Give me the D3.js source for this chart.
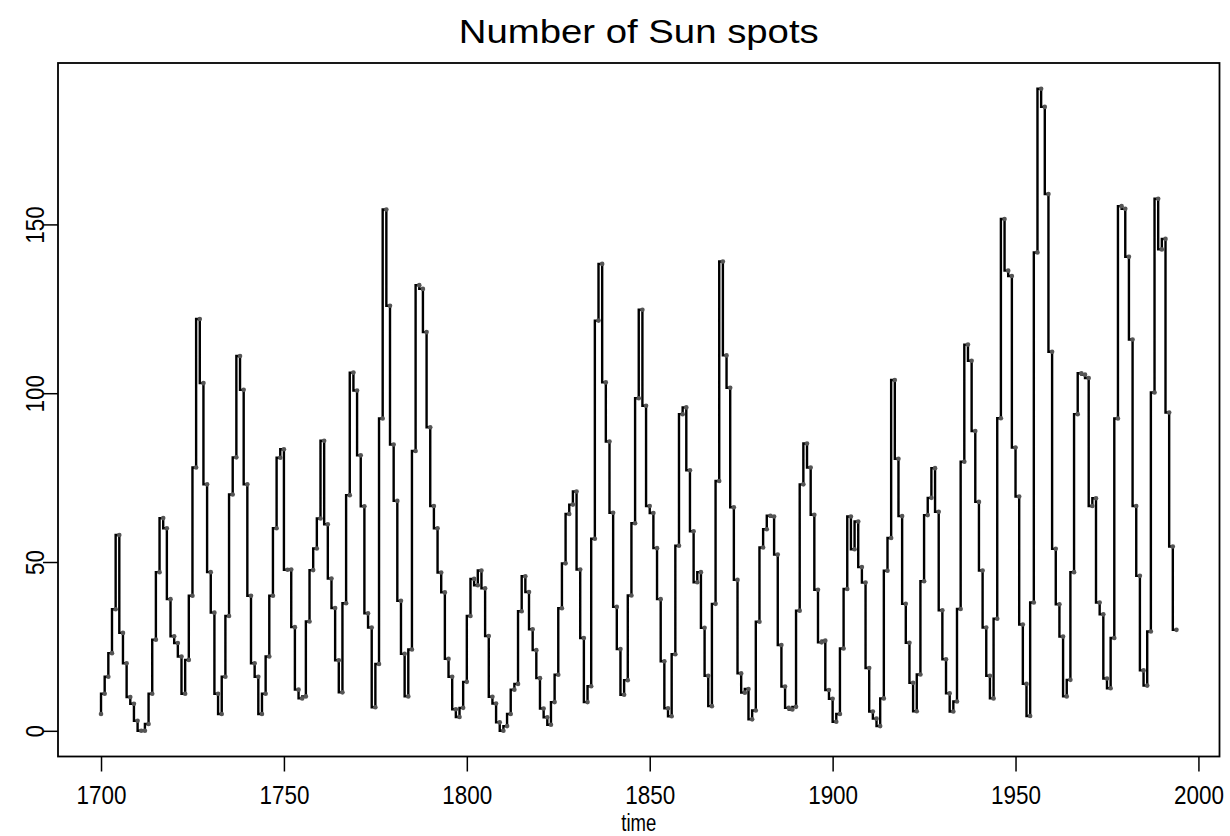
<!DOCTYPE html>
<html>
<head>
<meta charset="utf-8">
<script src="https://cdn.jsdelivr.net/npm/d3@7"></script>
<style>
  body { margin: 0; background: #fff; }
  text { font-family: "Liberation Sans", Arial, sans-serif; fill: #000; }
</style>
</head>
<body>
<div id="chart"></div>
<script>
let width = 1230
let height = 836

// yearly sunspot numbers, 1700 onwards
const startYear = 1700
const sunspots = [
  5, 11, 16, 23, 36, 58, 29, 20, 10, 8,
  3, 0, 0, 2, 11, 27, 47, 63, 60, 39,
  28, 26, 22, 11, 21, 40, 78, 122, 103, 73,
  47, 35, 11, 5, 16, 34, 70, 81, 111, 101,
  73, 40, 20, 16, 5, 11, 22, 40, 60, 80.9,
  83.4, 47.7, 47.8, 30.7, 12.2, 9.6, 10.2, 32.4, 47.6, 54,
  62.9, 85.9, 61.2, 45.1, 36.4, 20.9, 11.4, 37.8, 69.8, 106.1,
  100.8, 81.6, 66.5, 34.8, 30.6, 7, 19.8, 92.5, 154.4, 125.9,
  84.8, 68.1, 38.5, 22.8, 10.2, 24.1, 82.9, 132, 130.9, 118.1,
  89.9, 66.6, 60, 46.9, 41, 21.3, 16, 6.4, 4.1, 6.8,
  14.5, 34, 45, 43.1, 47.5, 42.2, 28.1, 10.1, 8.1, 2.5,
  0, 1.4, 5, 12.2, 13.9, 35.4, 45.8, 41.1, 30.1, 23.9,
  15.6, 6.6, 4, 1.8, 8.5, 16.6, 36.3, 49.6, 64.2, 67,
  70.9, 47.8, 27.5, 8.5, 13.2, 56.9, 121.5, 138.3, 103.2, 85.7,
  64.6, 36.7, 24.2, 10.7, 15, 40.1, 61.5, 98.5, 124.7, 96.3,
  66.6, 64.5, 54.1, 39, 20.6, 6.7, 4.3, 22.7, 54.8, 93.8,
  95.8, 77.2, 59.1, 44, 47, 30.5, 16.3, 7.3, 37.6, 74,
  139, 111.2, 101.6, 66.2, 44.7, 17, 11.3, 12.4, 3.4, 6,
  32.3, 54.3, 59.7, 63.7, 63.5, 52.2, 25.4, 13.1, 6.8, 6.3,
  7.1, 35.6, 73, 85.1, 78, 64, 41.8, 26.2, 26.7, 12.1,
  9.5, 2.7, 5, 24.4, 42, 63.5, 53.8, 62, 48.5, 43.9,
  18.6, 5.7, 3.6, 1.4, 9.6, 47.4, 57.1, 103.9, 80.6, 63.6,
  37.6, 26.1, 14.2, 5.8, 16.7, 44.3, 63.9, 69, 77.8, 64.9,
  35.7, 21.2, 11.1, 5.7, 8.7, 36.1, 79.7, 114.4, 109.6, 88.8,
  67.8, 47.5, 30.6, 16.3, 9.6, 33.2, 92.6, 151.6, 136.3, 134.7,
  83.9, 69.4, 31.5, 13.9, 4.4, 38, 141.7, 190.2, 184.8, 159,
  112.3, 53.9, 37.5, 27.9, 10.2, 15.1, 47, 93.8, 105.9, 105.5,
  104.5, 66.6, 68.9, 38, 34.5, 15.5, 12.6, 27.5, 92.5, 155.4,
  154.6, 140.4, 115.9, 66.6, 45.9, 17.9, 13.4, 29.4, 100.2, 157.6,
  142.6, 145.7, 94.3, 54.6, 29.9
]
const xTicks = [1700, 1750, 1800, 1850, 1900, 1950, 2000]
const yTicks = [0, 50, 100, 150]

let data = sunspots.map((v, i) => ({ year: startYear + i, value: v }))

let padLeft = 58, padRight = 1219.5, padTop = 63, padBottom = 756.5

// R style 4% padding round the data range
let xMin = d3.min(data, d => d.year), xMax = d3.max(data, d => d.year)
let yMin = d3.min(data, d => d.value), yMax = d3.max(data, d => d.value)
let xPad = (xMax - xMin) * 0.04, yPad = (yMax - yMin) * 0.04

let xScale = d3.scaleLinear()
            .domain([xMin - xPad, xMax + xPad])
            .range([padLeft, padRight])

let yScale = d3.scaleLinear()
            .domain([yMin - yPad, yMax + yPad])
            .range([padBottom, padTop])

let svg = d3.select('#chart')
            .append('svg')
            .attr('width', width)
            .attr('height', height)

svg.append('rect')
    .attr('width', width)
    .attr('height', height)
    .attr('fill', '#fff')

svg.append('text')
    .attr('x', (padLeft + padRight) / 2)
    .attr('y', 42.5)
    .attr('text-anchor', 'middle')
    .attr('textLength', 360)
    .attr('lengthAdjust', 'spacingAndGlyphs')
    .style('font-size', '34px')
    .text('Number of Sun spots')

let xAxis = svg.append('g')
    .attr('transform', 'translate(0,' + padBottom + ')')
    .call(d3.axisBottom(xScale)
        .tickValues(xTicks)
        .tickSize(15)
        .tickPadding(14)
        .tickFormat(d3.format('d')))

xAxis.select('.domain').remove()
xAxis.selectAll('line').attr('stroke', '#000').attr('stroke-width', 1.5)
xAxis.selectAll('text')
    .attr('fill', '#111')
    .attr('textLength', 50)
    .attr('lengthAdjust', 'spacingAndGlyphs')
    .style('font-size', '26px')

let yAxis = svg.append('g')
    .attr('transform', 'translate(' + padLeft + ',0)')
    .call(d3.axisLeft(yScale)
        .tickValues(yTicks)
        .tickSize(15))

yAxis.select('.domain').remove()
yAxis.selectAll('line').attr('stroke', '#000').attr('stroke-width', 1.5)
yAxis.selectAll('text')
    .attr('fill', '#111')
    .attr('transform', 'rotate(-90)')
    .attr('x', 0)
    .attr('y', -14)
    .attr('dy', 0)
    .attr('text-anchor', 'middle')
    .attr('textLength', d => String(d).length * 12.5)
    .attr('lengthAdjust', 'spacingAndGlyphs')
    .style('font-size', '26px')

svg.append('text')
    .attr('x', (padLeft + padRight) / 2)
    .attr('y', 831)
    .attr('text-anchor', 'middle')
    .attr('textLength', 35)
    .attr('lengthAdjust', 'spacingAndGlyphs')
    .style('font-size', '23px')
    .text('time')

let line = d3.line()
            .x(d => xScale(d.year))
            .y(d => yScale(d.value))
            .curve(d3.curveStepBefore)

svg.append('path')
    .datum(data)
    .attr('d', line)
    .attr('fill', 'none')
    .attr('stroke', '#000')
    .attr('stroke-width', 2.4)

svg.selectAll('.pt')
    .data(data)
    .enter()
    .append('circle')
    .attr('class', 'pt')
    .attr('cx', d => xScale(d.year))
    .attr('cy', d => yScale(d.value))
    .attr('r', 2.3)
    .attr('fill', '#555')

svg.append('rect')
    .attr('x', padLeft)
    .attr('y', padTop)
    .attr('width', padRight - padLeft)
    .attr('height', padBottom - padTop)
    .attr('fill', 'none')
    .attr('stroke', '#000')
    .attr('stroke-width', 1.8)
</script>
</body>
</html>
